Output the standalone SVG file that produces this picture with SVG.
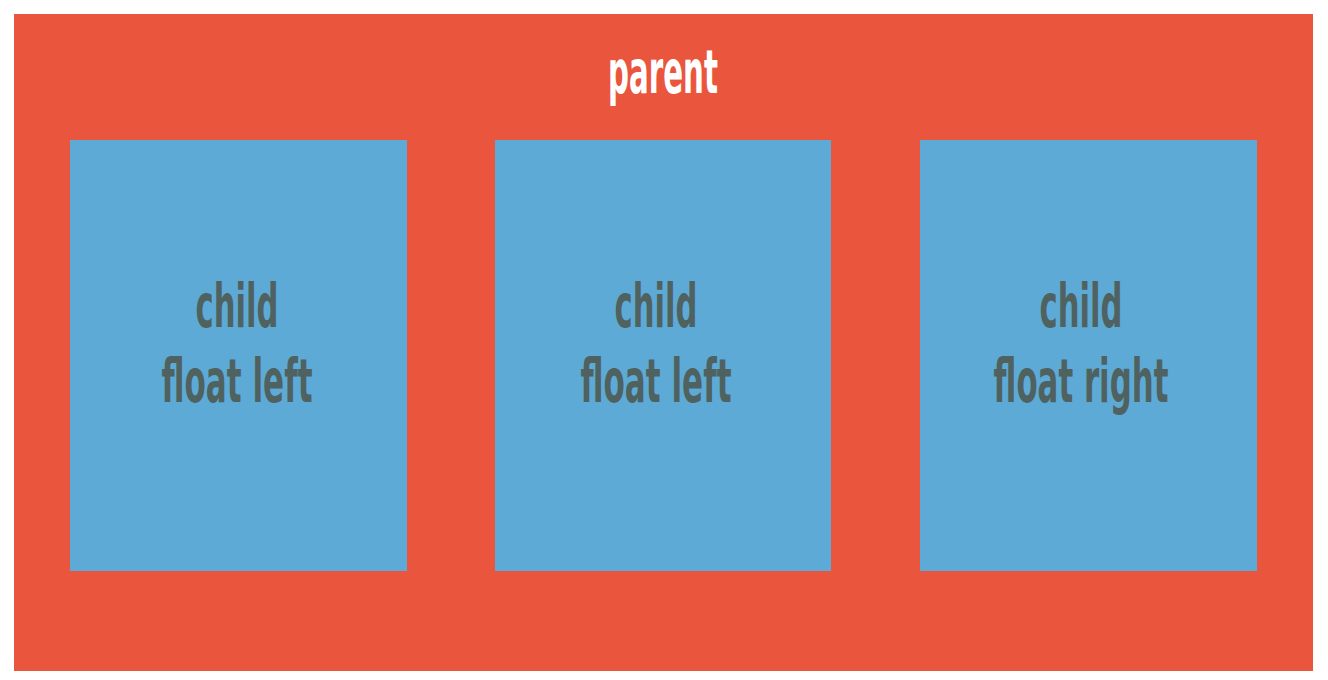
<svg xmlns="http://www.w3.org/2000/svg" width="1328" height="680" viewBox="0 0 1328 680">
<style>
.parent{fill:#EA553D}
.child{fill:#5EAAD6}
.t{font-family:"Liberation Sans Narrow","DejaVu Sans Condensed","Liberation Sans",sans-serif;font-weight:bold;font-size:60px;text-anchor:middle}
.pt{fill:#FFFFFF}
.ct{fill:#4F6260}
</style>
<rect width="1328" height="680" fill="#FFFFFF"/>
<g id="parent">
<rect class="parent" x="14" y="14" width="1299" height="657"/>
<text class="t pt" x="663" y="93" textLength="110" lengthAdjust="spacingAndGlyphs">parent</text>
</g>
<g id="child1">
<rect class="child" x="70" y="140" width="337" height="431"/>
<text class="t ct" x="237" y="327" textLength="83" lengthAdjust="spacingAndGlyphs">child</text>
<text class="t ct" x="237" y="402" textLength="151" lengthAdjust="spacingAndGlyphs">float left</text>
</g>
<g id="child2">
<rect class="child" x="495" y="140" width="336" height="431"/>
<text class="t ct" x="656" y="327" textLength="83" lengthAdjust="spacingAndGlyphs">child</text>
<text class="t ct" x="656" y="402" textLength="151" lengthAdjust="spacingAndGlyphs">float left</text>
</g>
<g id="child3">
<rect class="child" x="920" y="140" width="337" height="431"/>
<text class="t ct" x="1081" y="327" textLength="83" lengthAdjust="spacingAndGlyphs">child</text>
<text class="t ct" x="1081" y="402" textLength="175" lengthAdjust="spacingAndGlyphs">float right</text>
</g>
<g id="connectors"/>
</svg>
